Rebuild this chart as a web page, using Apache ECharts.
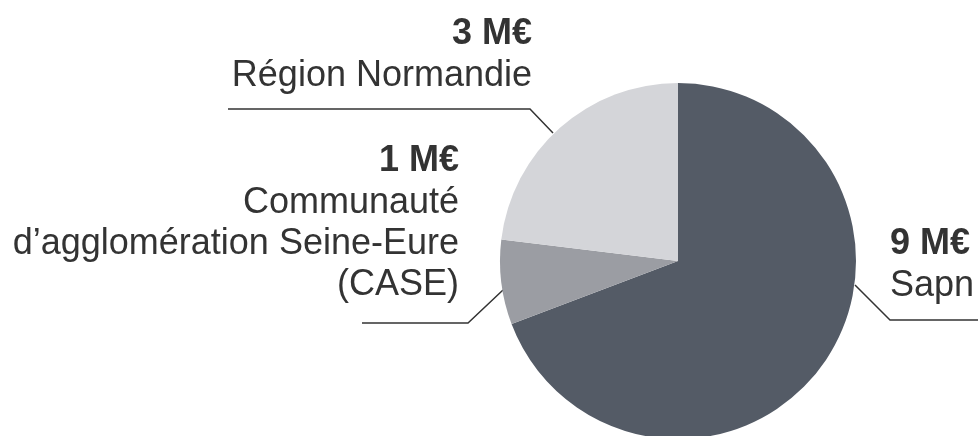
<!DOCTYPE html>
<html>
<head>
<meta charset="utf-8">
<script src="https://cdn.jsdelivr.net/npm/echarts@6/dist/echarts.min.js"></script>
<style>
  html, body { margin: 0; padding: 0; background: #fff; }
  #chart { width: 978px; height: 436px; }
</style>
</head>
<body>
<div id="chart"></div>
<script>
var myChart = echarts.init(document.getElementById('chart'));

// financeurs, montants en millions d'euros
var names = ['Sapn', 'Communauté\nd’agglomération Seine-Eure\n(CASE)', 'Région Normandie'];
var values = [9, 1, 3];
var colors = ['#545b66', '#9b9da3', '#d4d5d9'];

// where each label sits and how its leader runs
var labelPos = [
    { x: 890, y: 222, align: 'left', line: [[855, 285], [890, 320], [978, 320]] },
    { x: 459, y: 139, align: 'right', line: [[503, 290], [468, 323], [362, 323]] },
    { x: 532, y: 12, align: 'right', line: [[553, 133], [530, 109], [228, 109]] }
];

var data = [];
for (var i = 0; i < names.length; i++) {
    data.push({ name: names[i], value: values[i], itemStyle: { color: colors[i] } });
}

option = {
    animation: false,
    series: [{
        type: 'pie',
        center: [678, 261],
        radius: 178,
        startAngle: 90,
        clockwise: true,
        avoidLabelOverlap: false,
        silent: true,
        data: data,
        itemStyle: { borderWidth: 0 },
        label: {
            show: true,
            position: 'outside',
            formatter: '{v|{c} M€}\n{n|{b}}',
            rich: {
                v: {
                    fontFamily: 'Liberation Sans',
                    fontWeight: 'bold',
                    fontSize: 36,
                    lineHeight: 44,
                    color: '#333333'
                },
                n: {
                    fontFamily: 'Liberation Sans',
                    fontSize: 36,
                    lineHeight: 41,
                    color: '#333333'
                }
            }
        },
        labelLine: {
            show: true,
            lineStyle: { color: '#333333', width: 1.5 }
        },
        labelLayout: function(params) {
            var p = labelPos[params.dataIndex];
            return {
                x: p.x,
                y: p.y,
                align: p.align,
                verticalAlign: 'top',
                labelLinePoints: p.line
            };
        }
    }]
};

myChart.setOption(option);
</script>
</body>
</html>
